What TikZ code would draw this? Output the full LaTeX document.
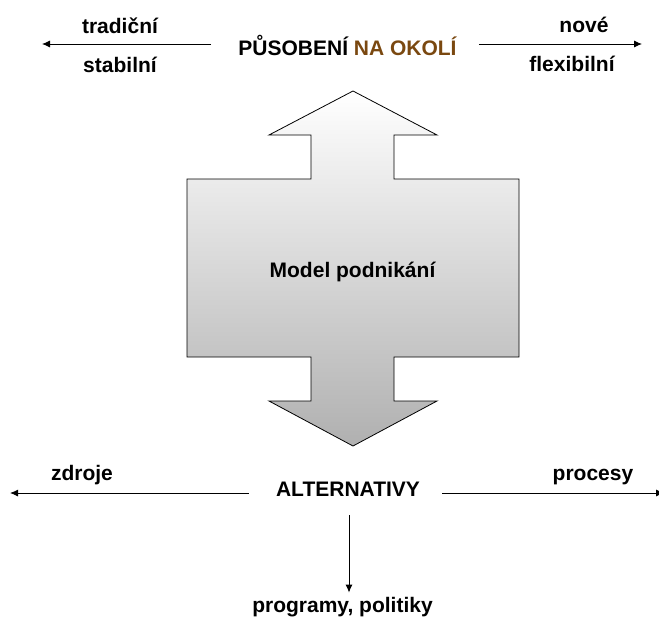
\documentclass[tikz,border=0pt]{standalone}
\usepackage{fontspec}
\setmainfont{Liberation Sans}
\usetikzlibrary{arrows.meta}
\definecolor{okolibrown}{RGB}{122,72,16}
\definecolor{shapetop}{RGB}{255,255,255}
\definecolor{shapebottom}{RGB}{176,176,176}
\begin{document}
\begin{tikzpicture}[x=1pt,y=-1pt,
  lbl/.style={inner sep=0pt,anchor=base,font=\fontsize{21}{25}\selectfont\bfseries},
  arr/.style={line width=0.9pt,-{Latex[length=8pt,width=7pt]}}]
\useasboundingbox (0,0) rectangle (659,621);

% double arrow: up arrow, central block, down arrow
\draw[line width=0.8pt,top color=shapetop,bottom color=shapebottom]
  (353,91) -- (437,135) -- (394,135) -- (394,179) -- (519,179) -- (519,357)
  -- (394,357) -- (394,401) -- (437,401) -- (353,446) -- (269,401)
  -- (311,401) -- (311,357) -- (187,357) -- (187,179) -- (311,179)
  -- (311,135) -- (269,135) -- cycle;
\node[lbl] (model) at (352.5,277) {Model podnikání};

% top row
\node[lbl] (title) at (347.5,55) {PŮSOBENÍ \textcolor{okolibrown}{NA OKOLÍ}};
\node[lbl] (trad) at (120,33) {tradiční};
\node[lbl] (stab) at (120,72) {stabilní};
\node[lbl] (nove) at (584,32) {nové};
\node[lbl] (flex) at (572,71) {flexibilní};
\coordinate (tlEnd) at (42,44);
\coordinate (trEnd) at (642,44);
\draw[arr,shorten <=27pt] (title.west |- tlEnd) -- (tlEnd);
\draw[arr,shorten <=22pt] (title.east |- trEnd) -- (trEnd);

% bottom row
\node[lbl] (alt) at (348,496) {ALTERNATIVY};
\node[lbl] (zdroje) at (82,480) {zdroje};
\node[lbl] (procesy) at (593,480) {procesy};
\node[lbl] (prg) at (342.5,612) {programy, politiky};
\coordinate (blEnd) at (10,493);
\coordinate (brEnd) at (664,493);
\draw[arr,shorten <=27pt] (alt.west |- blEnd) -- (blEnd);
\draw[arr,shorten <=22pt] (alt.east |- brEnd) -- (brEnd);
\draw[arr,shorten <=19pt,shorten >=4pt] ([xshift=1pt]alt.south) -- ([xshift=1pt]alt.south |- prg.north);
\end{tikzpicture}
\end{document}
